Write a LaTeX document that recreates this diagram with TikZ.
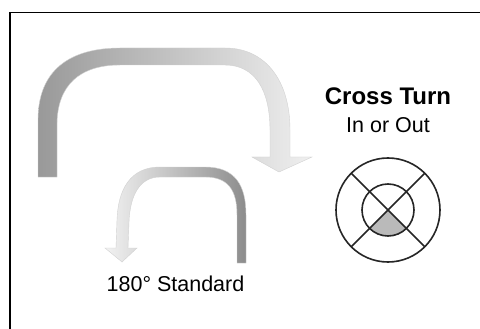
\documentclass[tikz,border=0pt]{standalone}
\usepackage{fontspec}
\setmainfont{Liberation Sans}
\begin{document}
\begin{tikzpicture}[x=1pt,y=-1pt,
  ring/.style={line width=1.6pt,draw=black!85},
  arrowbody/.style={draw=gray!35,line width=0.4pt},
  lbl/.style={anchor=base,inner sep=0pt}]
\useasboundingbox (0,0) rectangle (480,329);
\fill[white] (0,0) rectangle (480,329);
% frame
\draw[line width=1.5pt] (10,329) -- (10,12.5) -- (480,12.5);
% big arrow
\shade[arrowbody,left color=black!40,right color=black!6]
  (38,177) -- (38,120) .. controls (38,70) and (70,48) .. (120,48)
  -- (225,48) .. controls (265,48) and (290,80) .. (290,130)
  -- (290,157) -- (312,157) -- (279,172) -- (252,157) -- (270,157)
  -- (270,130) .. controls (270,90) and (255,65) .. (225,65)
  -- (120,65) .. controls (80,65) and (57,85) .. (57,125)
  -- (57,177) -- cycle;
% small arrow
\shade[arrowbody,left color=black!5,right color=black!45]
  (246,263) -- (246,215) .. controls (246,185) and (235,167) .. (205,167)
  -- (160,167) .. controls (130,167) and (118,190) .. (117,220)
  -- (116,248) -- (105,248) -- (122,262) -- (137,248) -- (128,248)
  -- (129,222) .. controls (130,195) and (140,177) .. (160,177)
  -- (205,177) .. controls (228,177) and (237,190) .. (237,215)
  -- (237,263) -- cycle;
% labels
\node[lbl] (std) at (175.5,291) {\fontsize{21.5}{24}\selectfont 180° Standard};
\node[lbl] (ct) at (388,105) {\fontsize{24}{28}\selectfont\bfseries Cross Turn};
\node[lbl] (io) at (388,133) {\fontsize{21.5}{24}\selectfont In or Out};
% cross-turn symbol
\coordinate (c) at (388,210);
\begin{scope}
  \clip (c) circle (26);
  \fill[black!27] (c) -- ++(-40,40) -- ++(80,0) -- cycle;
\end{scope}
\draw[ring] (c) circle (52);
\draw[ring] (c) circle (26);
\draw[ring] (c) ++(-36.77,-36.77) -- ++(73.54,73.54);
\draw[ring] (c) ++(36.77,-36.77) -- ++(-73.54,73.54);
\end{tikzpicture}
\end{document}
